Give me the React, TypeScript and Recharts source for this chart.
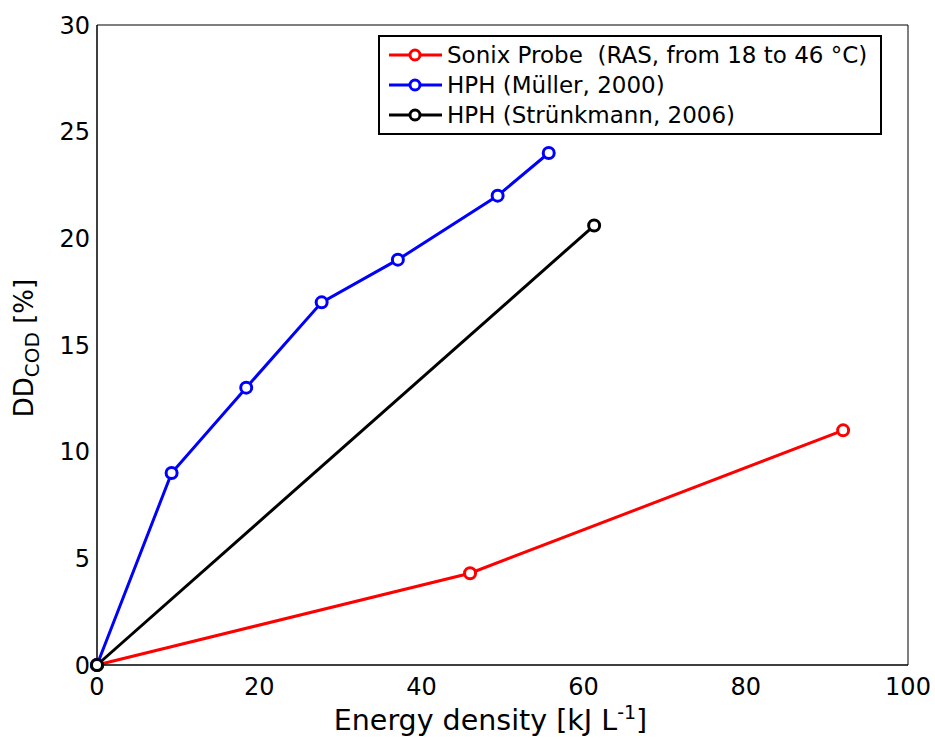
import { LineChart, Line, XAxis, YAxis, Legend } from 'recharts';

// energy density [kJ/L] and DD_COD [%] per series
const sonixEnergy = [0, 46, 92];
const sonixDD = [0, 4.3, 11];
const mullerEnergy = [0, 9.2, 18.4, 27.7, 37.1, 49.4, 55.7];
const mullerDD = [0, 9, 13, 17, 19, 22, 24];
const strunkEnergy = [0, 61.3];
const strunkDD = [0, 20.6];

const xTicks = [0, 20, 40, 60, 80, 100];
const yTicks = [0, 5, 10, 15, 20, 25, 30];

const seriesNames = ['Sonix Probe  (RAS, from 18 to 46 °C)', 'HPH (Müller, 2000)', 'HPH (Strünkmann, 2006)'];
const seriesColors = ['#ff0000', '#0000ff', '#000000'];

const toPoints = (xs: number[], ys: number[]) => xs.map((x, i) => ({ x, y: ys[i] }));

const FONT = '"DejaVu Sans", Verdana, sans-serif';

const XTitle = (props: any) => {
    const { viewBox } = props;
    return (
        <text x={viewBox.x + viewBox.width / 2 - 12} y={viewBox.y + 65} textAnchor="middle"
            fontFamily={FONT} fontSize={28.5} fill="#000">
            Energy density [kJ L<tspan dy={-11} fontSize={19}>-1</tspan><tspan dy={11}>]</tspan>
        </text>
    );
};

const YTitle = (props: any) => {
    const { viewBox } = props;
    const cx = 33;
    const cy = viewBox.y + viewBox.height / 2 + 3;
    return (
        <text x={cx} y={cy} transform={`rotate(-90, ${cx}, ${cy})`} textAnchor="middle"
            fontFamily={FONT} fontSize={26} fill="#000">
            DD<tspan dy={6} fontSize={20}>COD</tspan><tspan dy={-6}> [%]</tspan>
        </text>
    );
};

const LegendBox = () => (
    <div style={{ border: '2px solid #000', background: '#fff', width: 500, height: 93, paddingTop: 3, boxSizing: 'content-box', fontFamily: FONT }}>
        {seriesNames.map((n, i) => (
            <div key={n} style={{ display: 'flex', alignItems: 'center', height: 30 }}>
                <svg width={58} height={20} style={{ marginLeft: 9, flexShrink: 0 }}>
                    <line x1={0} y1={10} x2={53} y2={10} stroke={seriesColors[i]} strokeWidth={3} />
                    <circle cx={26} cy={10} r={5} stroke={seriesColors[i]} strokeWidth={3} fill="#fff" />
                </svg>
                <span style={{ fontSize: 23, whiteSpace: 'pre', color: '#000', lineHeight: '30px' }}>{n}</span>
            </div>
        ))}
    </div>
);

const DisintegrationChart = () => {
    const dot = (c: string) => ({ r: 5.5, stroke: c, strokeWidth: 3, fill: '#fff' });
    const tickStyle = { fontFamily: FONT, fontSize: 24, fill: '#000' };
    return (
        <div style={{ position: 'absolute', left: 0, top: 0, background: '#fff' }}>
            <LineChart width={935} height={740} margin={{ top: 25, right: 27, bottom: 0, left: 0 }}>
                {/* labelled axes */}
                <XAxis xAxisId="bottom" dataKey="x" type="number" domain={[0, 100]} ticks={xTicks}
                    height={75} tickSize={0} tickLine={false} tickMargin={13} stroke="#000" tick={tickStyle}
                    label={<XTitle />} />
                <YAxis yAxisId="left" type="number" domain={[0, 30]} ticks={yTicks} width={97}
                    tickSize={0} tickLine={false} tickMargin={7} stroke="#000" tick={tickStyle} label={<YTitle />} />
                {/* inward tick marks on all four sides of the box (mirror axes take no space) */}
                <XAxis xAxisId="bottomIn" mirror dataKey="x" type="number" domain={[0, 100]} ticks={xTicks}
                    height={30} tickSize={8} tick={false} stroke="#000" />
                <XAxis xAxisId="topIn" mirror orientation="top" dataKey="x" type="number" domain={[0, 100]} ticks={xTicks}
                    height={30} tickSize={8} tick={false} stroke="#000" />
                <YAxis yAxisId="leftIn" mirror type="number" domain={[0, 30]} ticks={yTicks} width={60}
                    tickSize={8} tick={false} stroke="#000" />
                <YAxis yAxisId="rightIn" mirror orientation="right" type="number" domain={[0, 30]} ticks={yTicks} width={60}
                    tickSize={8} tick={false} stroke="#000" />
                <Legend content={<LegendBox />} layout="horizontal" verticalAlign="middle" align="center"
                    wrapperStyle={{ position: 'absolute', left: 378, top: 35, width: 504, height: 98 }} />
                <Line xAxisId="bottom" yAxisId="left" name={seriesNames[0]} data={toPoints(sonixEnergy, sonixDD)} dataKey="y"
                    stroke={seriesColors[0]} strokeWidth={3} dot={dot(seriesColors[0])} isAnimationActive={false} />
                <Line xAxisId="bottom" yAxisId="left" name={seriesNames[1]} data={toPoints(mullerEnergy, mullerDD)} dataKey="y"
                    stroke={seriesColors[1]} strokeWidth={3} dot={dot(seriesColors[1])} isAnimationActive={false} />
                <Line xAxisId="bottom" yAxisId="left" name={seriesNames[2]} data={toPoints(strunkEnergy, strunkDD)} dataKey="y"
                    stroke={seriesColors[2]} strokeWidth={3} dot={dot(seriesColors[2])} isAnimationActive={false} />
            </LineChart>
        </div>
    );
};

export default DisintegrationChart;
